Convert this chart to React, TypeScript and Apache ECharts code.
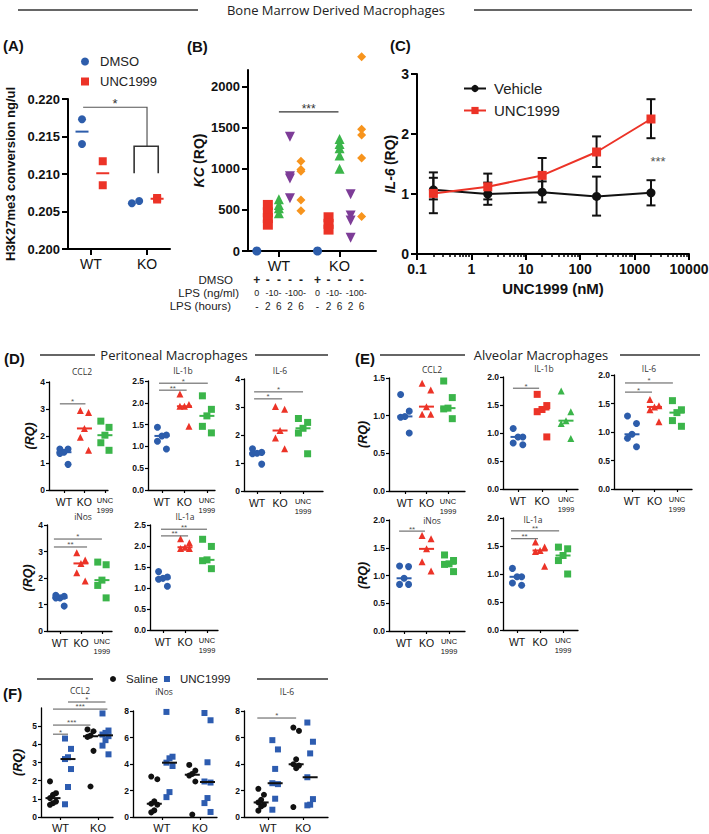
import React, { useEffect, useRef } from 'react';
import * as echarts from 'echarts';

const FONT = '"Liberation Sans", Arial, Helvetica, sans-serif';
const HFONT = '"Open Sans", "Noto Sans", sans-serif';
const BLUE = '#2d5dab';
const RED = '#ec3327';
const GREEN = '#3bb54a';
const PURPLE = '#7d3c97';
const ORANGE = '#f7941d';
const FBLUE = '#2d5cb0';
const BLACK = '#111111';
const SIGC = '#555555';

// ---------- (A) H3K27me3 ----------
const A_GROUPS = ['WT', 'KO'];
const A_DMSO_WT = [0.2173, 0.214];
const A_UNC_WT = [0.2117, 0.2085];
const A_DMSO_KO = [0.2061, 0.2064];
const A_UNC_KO = [0.2066, 0.2068];
// top bar x1, x2, y ; bracket x1, x2, y, leg end
const A_SIG = [0.86, 2.0, 0.2189, 1.77, 2.2, 0.2137, 0.2101];

// ---------- (B) KC ----------
const B_GROUPS = ['WT', 'KO'];
const B_DMSO_ROW = ['+', '-', '-', '-', '-', '+', '-', '-', '-', '-'];
const B_DOSE_ROW = ['0', '-10-', '-100-', '0', '-10-', '-100-'];
const B_HOURS_ROW = ['-', '2', '6', '2', '6', '-', '2', '6', '2', '6'];
const B_WT_DMSO = [0];
const B_WT_LPS10_2H = [560, 470, 400, 320];
const B_WT_LPS10_6H = [630, 560, 520, 460];
const B_WT_LPS100_2H = [1390, 910, 880, 640];
const B_WT_LPS100_6H = [1090, 990, 970, 620, 490];
const B_KO_DMSO = [0];
const B_KO_LPS10_2H = [410, 330, 260];
const B_KO_LPS10_6H = [1360, 1300, 1250, 1160, 1000];
const B_KO_LPS100_2H = [690, 430, 370, 160];
const B_KO_LPS100_6H = [2360, 1480, 1410, 1130, 420];
const B_Y_TICKS = [0, 500, 1000, 1500, 2000];
const B_SIG = [[3, 8.4, 1690]];

// ---------- (C) IL-6 dose response ----------
const C_DOSE = [0.2, 2, 20, 200, 2000];
const C_VEH = [1.07, 1.0, 1.03, 0.96, 1.02];
const C_VEH_LO = [0.68, 0.82, 0.86, 0.64, 0.81];
const C_VEH_HI = [1.36, 1.19, 1.21, 1.29, 1.23];
const C_UNC = [1.01, 1.12, 1.31, 1.7, 2.25];
const C_UNC_LO = [0.91, 0.91, 1.02, 1.45, 1.93];
const C_UNC_HI = [1.27, 1.34, 1.6, 1.96, 2.58];
const C_XTICKS = [0.1, 1, 10, 100, 1000, 10000];
const C_XTICK_LABELS = ['0.1', '1', '10', '100', '1000', '10000'];

// ---------- (D) Peritoneal macrophages ----------
const DE_GROUPS = ['WT', 'KO', 'UNC\n1999'];
const D_CCL2_WT = [1.52, 1.52, 1.4, 1.35, 0.95];
const D_CCL2_KO = [2.94, 2.87, 2.28, 1.95, 1.47];
const D_CCL2_UNC = [2.55, 2.32, 2.03, 1.75, 1.47];
const D_IL1B_WT = [1.44, 1.26, 1.24, 1.12, 0.94];
const D_IL1B_KO = [2.2, 1.96, 1.92, 1.92, 1.46];
const D_IL1B_UNC = [2.16, 1.85, 1.7, 1.46, 1.31];
const D_IL6_WT = [1.51, 1.38, 1.35, 1.33, 0.96];
const D_IL6_KO = [3.02, 2.92, 2.16, 1.89, 1.51];
const D_IL6_UNC = [2.59, 2.45, 2.24, 2.07, 1.33];
const D_INOS_WT = [1.35, 1.31, 1.25, 1.25, 0.94];
const D_INOS_KO = [2.95, 2.68, 2.55, 2.2, 1.89];
const D_INOS_UNC = [2.6, 2.5, 1.92, 1.72, 1.25];
const D_IL1A_WT = [1.39, 1.26, 1.23, 1.21, 1.04];
const D_IL1A_KO = [2.17, 2.08, 1.97, 1.94, 1.94];
const D_IL1A_UNC = [2.16, 1.99, 1.67, 1.65, 1.46];
const D_CCL2_SIG = [[0.8, 2.05, 3.19]];
const D_CCL2_STARS = ['*'];
const D_IL1B_SIG = [[0.87, 3.04, 2.45], [0.87, 2.1, 2.29]];
const D_IL1B_STARS = ['*', '**'];
const D_IL6_SIG = [[0.87, 3.0, 3.54], [0.87, 2.09, 3.29]];
const D_IL6_STARS = ['*', '*'];
const D_INOS_SIG = [[0.71, 3.0, 3.47], [0.71, 2.29, 3.17]];
const D_INOS_STARS = ['*', '**'];
const D_IL1A_SIG = [[0.91, 3.0, 2.4], [0.91, 2.14, 2.24]];
const D_IL1A_STARS = ['**', '**'];

// ---------- (E) Alveolar macrophages ----------
const E_CCL2_WT = [1.28, 1.06, 0.99, 0.98, 0.77];
const E_CCL2_KO = [1.43, 1.34, 1.12, 1.02, 1.02];
const E_CCL2_UNC = [1.46, 1.24, 1.1, 1.09, 0.96];
const E_IL1B_WT = [1.08, 0.93, 0.93, 0.82, 0.79];
const E_IL1B_KO = [1.69, 1.49, 1.42, 1.38, 0.93];
const E_IL1B_UNC = [1.75, 1.38, 1.22, 1.17, 0.9];
const E_IL6_WT = [1.28, 1.15, 0.96, 0.89, 0.74];
const E_IL6_KO = [1.57, 1.46, 1.44, 1.39, 1.18];
const E_IL6_UNC = [1.55, 1.39, 1.34, 1.2, 1.1];
const E_INOS_WT = [1.17, 1.16, 0.95, 0.84, 0.84];
const E_INOS_KO = [1.72, 1.66, 1.48, 1.25, 1.08];
const E_INOS_UNC = [1.37, 1.27, 1.21, 1.2, 1.07];
const E_IL1A_WT = [1.1, 0.95, 0.95, 0.84, 0.8];
const E_IL1A_KO = [1.57, 1.48, 1.42, 1.4, 1.14];
const E_IL1A_UNC = [1.48, 1.45, 1.33, 1.24, 1.0];
const E_IL1B_SIG = [[0.79, 1.88, 1.8]];
const E_IL1B_STARS = ['*'];
const E_IL6_SIG = [[0.69, 2.82, 1.86], [0.69, 1.89, 1.7]];
const E_IL6_STARS = ['*', '*'];
const E_INOS_SIG = [[0.78, 1.93, 1.8]];
const E_INOS_STARS = ['**'];
const E_IL1A_SIG = [[0.74, 2.83, 1.77], [0.74, 1.91, 1.63]];
const E_IL1A_STARS = ['**', '**'];

// ---------- (F) in vivo ----------
const F_GROUPS = ['WT', 'KO'];
const F_CCL2_WT_SAL = [1.96, 1.31, 1.22, 1.04, 0.85, 0.76, 0.67];
const F_CCL2_WT_UNC = [4.32, 3.75, 3.29, 3.19, 2.64, 1.65, 0.7];
const F_CCL2_KO_SAL = [4.82, 4.72, 4.48, 4.41, 3.64, 1.68];
const F_CCL2_KO_UNC = [5.7, 4.76, 4.63, 4.54, 4.45, 4.23, 3.93, 3.45];
const F_INOS_WT_SAL = [3.05, 2.85, 1.18, 1.0, 0.93, 0.5, 0.35];
const F_INOS_WT_UNC = [7.93, 4.55, 4.43, 4.1, 3.85, 1.88, 1.5];
const F_INOS_KO_SAL = [3.93, 3.5, 3.25, 3.13, 2.68, 0.18];
const F_INOS_KO_UNC = [7.85, 7.3, 4.13, 2.68, 2.6, 1.43, 1.05, 0.38];
const F_IL6_WT_SAL = [2.13, 1.68, 1.3, 1.1, 0.93, 0.8, 0.48];
const F_IL6_WT_UNC = [5.8, 5.1, 3.63, 2.55, 2.48, 1.38, 0.55];
const F_IL6_KO_SAL = [6.75, 6.5, 4.35, 3.98, 3.88, 3.68, 0.75];
const F_IL6_KO_UNC = [7.13, 5.68, 4.8, 3.0, 1.35, 0.93, 0.88];
const F_CCL2_YTICKS = [0, 1, 2, 3, 4, 5];
const F_CCL2_SIG = [[1.2, 2.2, 6.33], [0.8, 2.25, 5.94], [0.8, 1.8, 5.06], [0.8, 1.2, 4.56]];
const F_CCL2_STARS = ['*', '***', '***', '*'];
const F_IL6_SIG = [[0.69, 1.8, 7.47]];
const F_IL6_STARS = ['*'];

// ---------- layout (pixels / axis ranges) ----------
const J5 = [-0.2, 0.2, 0, -0.2, 0.2];
const J8 = [-0.08, 0.08, 0, -0.08, 0.08, 0, -0.08, 0.08];
const FOFF = 0.2;
const B_COLS = [1, 2, 3, 4, 5, 6.5, 7.5, 8.5, 9.5, 10.5];
const B_DOSE_POS = [1, 2.5, 4.5, 6.5, 8, 10];
const B_GROUP_POS = [3, 8.5];

function median(a: number[]) {
  const s = [...a].sort((x, y) => x - y);
  const n = s.length;
  return n % 2 ? s[(n - 1) / 2] : (s[n / 2 - 1] + s[n / 2]) / 2;
}
function mean(a: number[]) {
  return a.reduce((s, v) => s + v, 0) / a.length;
}

const LINE = (w: number) => ({ show: true, onZero: false, lineStyle: { color: '#000', width: w } });

function buildOption() {
  const grid: any[] = [];
  const xAxis: any[] = [];
  const yAxis: any[] = [];
  const series: any[] = [];
  const graphic: any[] = [];

  const addGrid = (r: number[], xa: any, ya: any) => {
    grid.push({ left: r[0], top: r[1], width: r[2], height: r[3], containLabel: false, outerBoundsMode: 'none' });
    const g = grid.length - 1;
    xAxis.push({ gridIndex: g, type: 'value', position: 'bottom', splitLine: { show: false }, ...xa });
    yAxis.push({ gridIndex: g, type: 'value', position: 'left', splitLine: { show: false }, ...ya });
    return { g, xi: xAxis.length - 1, yi: yAxis.length - 1 };
  };

  const text = (t: string, x: number, y: number, font: string, align = 'center', fill = '#222') =>
    graphic.push({
      type: 'text', x, y, silent: true,
      style: { text: t, font, fill, align, verticalAlign: 'middle', textAlign: align, textVerticalAlign: 'middle' },
    });
  const hline = (x1: number, x2: number, y: number, w = 1.3, stroke = '#333') =>
    graphic.push({ type: 'line', silent: true, shape: { x1, y1: y, x2, y2: y }, style: { stroke, lineWidth: w } });

  const scatter = (ax: any, name: string, data: number[][], symbol: string, size: any, color: string, extra: any = {}) =>
    series.push({
      type: 'scatter', name, xAxisIndex: ax.xi, yAxisIndex: ax.yi, data, symbol, symbolSize: size,
      itemStyle: { color, opacity: 1 }, clip: false, silent: true, ...extra,
    });

  const sig = (ax: any, rows: number[][], stars: string[], fs = 8, color = SIGC, lw = 1) =>
    series.push({
      type: 'custom', xAxisIndex: ax.xi, yAxisIndex: ax.yi, clip: false, silent: true, z: 6, data: rows,
      renderItem: (p: any, api: any) => {
        const a = api.coord([api.value(0), api.value(2)]);
        const b = api.coord([api.value(1), api.value(2)]);
        return {
          type: 'group',
          children: [
            { type: 'line', shape: { x1: a[0], y1: a[1], x2: b[0], y2: b[1] }, style: { stroke: color, lineWidth: lw } },
            {
              type: 'text', x: (a[0] + b[0]) / 2, y: a[1] - fs * 0.2 - 0.5,
              style: { text: stars[p.dataIndex], font: `${fs}px ${FONT}`, fill: color, align: 'center', verticalAlign: 'middle', textAlign: 'center', textVerticalAlign: 'middle' },
            },
          ],
        };
      },
    });

  // ===== header =====
  hline(18, 198, 10);
  hline(474, 692, 10);
  text('Bone Marrow Derived Macrophages', 336, 10, `13px ${HFONT}`);
  const letter = (t: string, x: number, y: number) => text(t, x, y, `bold 15px ${FONT}`, 'left', '#111');
  letter('(A)', 3, 45);
  letter('(B)', 187, 46);
  letter('(C)', 390, 45);
  letter('(D)', 4, 358);
  letter('(E)', 355, 358);
  letter('(F)', 3, 693);

  // ===== (A) =====
  const a = addGrid(
    [68, 99, 102, 150],
    {
      min: 0.59, max: 2.41, axisLine: LINE(2),
      axisTick: { customValues: [1, 2], length: 6, lineStyle: { color: '#000', width: 2 } },
      axisLabel: { customValues: [1, 2], formatter: (v: number) => A_GROUPS[Math.round(v) - 1], fontSize: 14, fontFamily: FONT, color: '#111', margin: 8 },
    },
    {
      min: 0.2, max: 0.22, interval: 0.005, axisLine: LINE(2),
      axisTick: { length: 6, lineStyle: { color: '#000', width: 2 } },
      axisLabel: { formatter: (v: number) => v.toFixed(3), fontSize: 13, fontWeight: 'bold', fontFamily: FONT, color: '#111', margin: 8 },
      name: 'H3K27me3 conversion ng/ul', nameLocation: 'middle', nameRotate: 90, nameGap: 51,
      nameTextStyle: { fontSize: 13, fontWeight: 'bold', fontFamily: FONT, color: '#111' },
    }
  );
  scatter(a, 'DMSO', [...A_DMSO_WT.map((v) => [1 - 0.16, v]), ...A_DMSO_KO.map((v, i) => [2 - 0.27 + i * 0.13, v])], 'circle', 8, BLUE);
  scatter(a, 'UNC1999', [...A_UNC_WT.map((v) => [1 + 0.21, v]), ...A_UNC_KO.map((v) => [2 + 0.18, v])], 'rect', 8, RED);
  scatter(a, 'A-mean-dmso', [[1 - 0.16, mean(A_DMSO_WT)]], 'rect', [13, 2], BLUE);
  scatter(a, 'A-mean-unc', [[1 + 0.21, mean(A_UNC_WT)], [2 + 0.18, mean(A_UNC_KO)]], 'rect', [13, 2], RED);
  series.push({
    type: 'custom', xAxisIndex: a.xi, yAxisIndex: a.yi, clip: false, silent: true, z: 6, data: [A_SIG],
    renderItem: (p: any, api: any) => {
      const v = (i: number) => api.value(i);
      const P = (x: number, y: number) => api.coord([x, y]);
      const t1 = P(v(0), v(2)), t2 = P(v(1), v(2)), t3 = P(v(1), v(5));
      const b1 = P(v(3), v(6)), b2 = P(v(3), v(5)), b3 = P(v(4), v(5)), b4 = P(v(4), v(6));
      return {
        type: 'group',
        children: [
          { type: 'polyline', shape: { points: [t1, t2, t3] }, style: { stroke: '#555', lineWidth: 1.2, fill: null } },
          { type: 'polyline', shape: { points: [b1, b2, b3, b4] }, style: { stroke: '#333', lineWidth: 1.6, fill: null } },
          {
            type: 'text', x: (t1[0] + t2[0]) / 2, y: t1[1] - 4,
            style: { text: '*', font: `13px ${FONT}`, fill: '#333', align: 'center', verticalAlign: 'middle', textAlign: 'center', textVerticalAlign: 'middle' },
          },
        ],
      };
    },
  });

  // ===== (B) =====
  const b = addGrid(
    [248, 70, 128, 181],
    {
      min: 0.2, max: 11.8, axisLine: LINE(2),
      axisTick: { customValues: B_GROUP_POS, length: 6, lineStyle: { color: '#000', width: 2 } },
      axisLabel: { customValues: B_GROUP_POS, formatter: (v: number) => B_GROUPS[B_GROUP_POS.indexOf(v)], fontSize: 14.5, fontFamily: FONT, color: '#111', margin: 7 },
    },
    {
      min: 0, max: 2200, axisLine: LINE(2),
      axisTick: { customValues: B_Y_TICKS, length: 6, lineStyle: { color: '#000', width: 2 } },
      axisLabel: { customValues: B_Y_TICKS, formatter: (v: number) => String(v), fontSize: 13, fontWeight: 'bold', fontFamily: FONT, color: '#111', margin: 8 },
      name: '{i|KC} {n|(RQ)}', nameLocation: 'middle', nameRotate: 90, nameGap: 42,
      nameTextStyle: {
        fontFamily: FONT,
        rich: {
          i: { fontSize: 14, fontStyle: 'italic', fontWeight: 'bold', fontFamily: FONT, color: '#111' },
          n: { fontSize: 14, fontWeight: 'bold', fontFamily: FONT, color: '#111' },
        },
      },
    }
  );
  const bRow = (offset: number, pos: number[], labels: string[], fs: number, bold: boolean) =>
    xAxis.push({
      gridIndex: b.g, type: 'value', min: 0.2, max: 11.8, position: 'bottom', offset,
      axisLine: { show: false }, axisTick: { show: false }, splitLine: { show: false },
      axisLabel: {
        customValues: pos, margin: 0, formatter: (v: number) => labels[pos.indexOf(v)],
        fontSize: fs, fontWeight: bold ? 'bold' : 'normal', fontFamily: FONT, color: '#222',
      },
    });
  bRow(23, B_COLS, B_DMSO_ROW, 12, true);
  bRow(37, B_DOSE_POS, B_DOSE_ROW, 9, false);
  bRow(50, B_COLS, B_HOURS_ROW, 10, false);
  text('DMSO', 233, 280, `11.5px ${FONT}`, 'right');
  text('LPS (ng/ml)', 239, 293, `11.5px ${FONT}`, 'right');
  text('LPS (hours)', 231, 306, `11.5px ${FONT}`, 'right');
  const bSeries: [number[], number, string, number, string, any][] = [
    [B_WT_DMSO, 1, 'circle', 9, BLUE, {}],
    [B_WT_LPS10_2H, 2, 'rect', 10, RED, {}],
    [B_WT_LPS10_6H, 3, 'triangle', 10, GREEN, {}],
    [B_WT_LPS100_2H, 4, 'triangle', 10, PURPLE, { symbolRotate: 180 }],
    [B_WT_LPS100_6H, 5, 'diamond', 9, ORANGE, {}],
    [B_KO_DMSO, 6.5, 'circle', 9, BLUE, {}],
    [B_KO_LPS10_2H, 7.5, 'rect', 10, RED, {}],
    [B_KO_LPS10_6H, 8.5, 'triangle', 10, GREEN, {}],
    [B_KO_LPS100_2H, 9.5, 'triangle', 10, PURPLE, { symbolRotate: 180 }],
    [B_KO_LPS100_6H, 10.5, 'diamond', 9, ORANGE, {}],
  ];
  bSeries.forEach(([vals, x, sym, size, col, ex], i) =>
    scatter(b, 'B-' + i, vals.map((v) => [x, v]), sym, size, col, ex)
  );
  sig(b, B_SIG, ['***'], 12, '#333', 1.2);

  // ===== (C) =====
  const c = addGrid(
    [417, 74, 272, 180],
    {
      type: 'log', logBase: 10, min: 0.1, max: 10000, axisLine: LINE(2),
      axisTick: { customValues: C_XTICKS, length: 6, lineStyle: { color: '#000', width: 2 } },
      axisLabel: { customValues: C_XTICKS, formatter: (v: number) => C_XTICK_LABELS[C_XTICKS.indexOf(v)] ?? String(v), fontSize: 14, fontWeight: 'bold', fontFamily: FONT, color: '#111', margin: 8 },
      name: 'UNC1999 (nM)', nameLocation: 'middle', nameGap: 27,
      nameTextStyle: { fontSize: 15, fontWeight: 'bold', fontFamily: FONT, color: '#111' },
    },
    {
      min: 0, max: 3, interval: 1, axisLine: LINE(2),
      axisTick: { length: 6, lineStyle: { color: '#000', width: 2 } },
      axisLabel: { fontSize: 14, fontWeight: 'bold', fontFamily: FONT, color: '#111', margin: 8 },
      name: '{i|IL-6} {n|(RQ)}', nameLocation: 'middle', nameRotate: 90, nameGap: 17,
      nameTextStyle: {
        fontFamily: FONT,
        rich: {
          i: { fontSize: 14, fontStyle: 'italic', fontWeight: 'bold', fontFamily: FONT, color: '#111' },
          n: { fontSize: 14, fontWeight: 'bold', fontFamily: FONT, color: '#111' },
        },
      },
    }
  );
  const cMinor: number[] = [];
  [0.1, 1, 10, 100, 1000].forEach((d) => {
    for (let m = 2; m <= 9; m++) cMinor.push(+(m * d).toPrecision(6));
  });
  xAxis.push({
    gridIndex: c.g, type: 'log', logBase: 10, min: 0.1, max: 10000, position: 'bottom',
    axisLine: { show: false }, axisLabel: { show: false }, splitLine: { show: false },
    axisTick: { customValues: cMinor, length: 3, lineStyle: { color: '#000', width: 1.5 } },
  });
  const errSeries = (lo: number[], hi: number[], color: string) =>
    series.push({
      type: 'custom', xAxisIndex: c.xi, yAxisIndex: c.yi, clip: false, silent: true, z: 2,
      data: C_DOSE.map((d, i) => [d, lo[i], hi[i]]),
      renderItem: (p: any, api: any) => {
        const t = api.coord([api.value(0), api.value(2)]);
        const u = api.coord([api.value(0), api.value(1)]);
        const st = { stroke: color, lineWidth: 2 };
        return {
          type: 'group',
          children: [
            { type: 'line', shape: { x1: t[0], y1: t[1], x2: u[0], y2: u[1] }, style: st },
            { type: 'line', shape: { x1: t[0] - 4.5, y1: t[1], x2: t[0] + 4.5, y2: t[1] }, style: st },
            { type: 'line', shape: { x1: u[0] - 4.5, y1: u[1], x2: u[0] + 4.5, y2: u[1] }, style: st },
          ],
        };
      },
    });
  errSeries(C_VEH_LO, C_VEH_HI, BLACK);
  errSeries(C_UNC_LO, C_UNC_HI, BLACK);
  series.push({
    type: 'line', name: 'Vehicle', xAxisIndex: c.xi, yAxisIndex: c.yi, silent: true, z: 4,
    data: C_DOSE.map((d, i) => [d, C_VEH[i]]), symbol: 'circle', symbolSize: 9,
    lineStyle: { color: BLACK, width: 2 }, itemStyle: { color: BLACK },
  });
  series.push({
    type: 'line', name: 'UNC1999 (C)', xAxisIndex: c.xi, yAxisIndex: c.yi, silent: true, z: 5,
    data: C_DOSE.map((d, i) => [d, C_UNC[i]]), symbol: 'rect', symbolSize: 9,
    lineStyle: { color: RED, width: 2 }, itemStyle: { color: RED },
  });
  text('***', 658, 161, `13px ${FONT}`, 'center', '#555');

  // ===== dot plots D / E =====
  const deLabel = (v: number) => {
    const lab = DE_GROUPS[Math.round(v) - 1] ?? '';
    return lab.includes('\n') ? lab.split('\n').map((s) => `{u|${s}}`).join('\n') : `{n|${lab}}`;
  };
  const dotPanel = (
    r: number[], xr: number[], title: string, tpos: number[], groups: number[][], shapes: string[],
    yMax: number, yStep: number, dec: number, sigRows: number[][], stars: string[], rq: boolean
  ) => {
    const ax = addGrid(
      r,
      {
        min: xr[0], max: xr[1], axisLine: LINE(1.3),
        axisTick: { customValues: [1, 2, 3], length: 3, lineStyle: { color: '#000', width: 1.2 } },
        axisLabel: {
          customValues: [1, 2, 3], margin: 5, formatter: deLabel, color: '#111',
          rich: {
            n: { fontSize: 10.5, fontFamily: FONT, color: '#111', lineHeight: 13 },
            u: { fontSize: 7.5, fontFamily: FONT, color: '#111', lineHeight: 10 },
          },
        },
      },
      {
        min: 0, max: yMax, interval: yStep, axisLine: LINE(1.3),
        axisTick: { length: 3, lineStyle: { color: '#000', width: 1.2 } },
        axisLabel: { formatter: (v: number) => v.toFixed(dec), fontSize: 8.5, fontWeight: 'bold', fontFamily: FONT, color: '#111', margin: 4 },
        name: rq ? '(RQ)' : '', nameLocation: 'middle', nameRotate: 90, nameGap: 10,
        nameTextStyle: { fontSize: 12.5, fontStyle: 'italic', fontWeight: 'bold', fontFamily: FONT, color: '#111' },
      }
    );
    const cols = [BLUE, RED, GREEN];
    groups.forEach((vals, gi) => {
      scatter(ax, `${title}-${gi}`, vals.map((v, i) => [gi + 1 + J5[i % J5.length], v]), shapes[gi], 7, cols[gi]);
    });
    groups.forEach((vals, gi) => {
      scatter(ax, `${title}-m${gi}`, [[gi + 1, median(vals)]], 'rect', [15, 2], cols[gi], { z: 4 });
    });
    if (sigRows.length) sig(ax, sigRows, stars, 8);
    text(title, tpos[0], tpos[1], `8.5px ${HFONT}`, 'center', '#333');
  };
  const S3 = ['circle', 'triangle', 'rect'];

  // D header
  hline(40, 95, 355);
  hline(255, 328, 355);
  text('Peritoneal Macrophages', 174, 355, `13px ${HFONT}`);
  dotPanel([49, 382, 59, 108], [0.27, 3.15], 'CCL2', [82, 371], [D_CCL2_WT, D_CCL2_KO, D_CCL2_UNC], S3, 4, 1, 0, D_CCL2_SIG, D_CCL2_STARS, true);
  dotPanel([148, 381, 67, 109], [0.38, 3.36], 'IL-1b', [183, 370], [D_IL1B_WT, D_IL1B_KO, D_IL1B_UNC], S3, 2.5, 0.5, 1, D_IL1B_SIG, D_IL1B_STARS, false);
  dotPanel([244, 379, 79, 112], [0.43, 3.87], 'IL-6', [280, 370], [D_IL6_WT, D_IL6_KO, D_IL6_UNC], S3, 4, 1, 0, D_IL6_SIG, D_IL6_STARS, false);
  dotPanel([47, 525, 65, 106], [0.38, 3.48], 'iNos', [83, 516], [D_INOS_WT, D_INOS_KO, D_INOS_UNC], S3, 4, 1, 0, D_INOS_SIG, D_INOS_STARS, true);
  dotPanel([150, 525, 68, 105], [0.41, 3.5], 'IL-1a', [185, 516], [D_IL1A_WT, D_IL1A_KO, D_IL1A_UNC], S3, 2.5, 0.5, 1, D_IL1A_SIG, D_IL1A_STARS, false);

  // E header
  hline(380, 465, 355);
  hline(620, 700, 355);
  text('Alveolar Macrophages', 541, 355, `13px ${HFONT}`);
  dotPanel([389, 378, 76, 113], [0.26, 3.79], 'CCL2', [432, 369], [E_CCL2_WT, E_CCL2_KO, E_CCL2_UNC], S3, 1.5, 0.5, 1, [], [], true);
  dotPanel([503, 377, 75, 112], [0.375, 3.5], 'IL-1b', [544, 368], [E_IL1B_WT, E_IL1B_KO, E_IL1B_UNC], ['circle', 'rect', 'triangle'], 2, 0.5, 1, E_IL1B_SIG, E_IL1B_STARS, false);
  dotPanel([614, 375, 78, 114], [0.2, 3.67], 'IL-6', [649, 368], [E_IL6_WT, E_IL6_KO, E_IL6_UNC], S3, 2, 0.5, 1, E_IL6_SIG, E_IL6_STARS, false);
  dotPanel([389, 520, 76, 111], [0.33, 3.71], 'iNos', [432, 520], [E_INOS_WT, E_INOS_KO, E_INOS_UNC], S3, 2, 0.5, 1, E_INOS_SIG, E_INOS_STARS, true);
  dotPanel([503, 518, 75, 112], [0.39, 3.65], 'IL-1a', [533, 519], [E_IL1A_WT, E_IL1A_KO, E_IL1A_UNC], S3, 2, 0.5, 1, E_IL1A_SIG, E_IL1A_STARS, false);

  // ===== (F) =====
  hline(37, 93, 679);
  hline(257, 328, 679);
  const fPanel = (
    r: number[], xr: number[], title: string, tpos: number[], groups: number[][],
    yMax: number, yStep: number, yTicks: number[] | null, sigRows: number[][], stars: string[], rq: boolean
  ) => {
    const ax = addGrid(
      r,
      {
        min: xr[0], max: xr[1], axisLine: LINE(1.3),
        axisTick: { customValues: [1, 2], length: 3, lineStyle: { color: '#000', width: 1.2 } },
        axisLabel: { customValues: [1, 2], margin: 5, formatter: (v: number) => F_GROUPS[Math.round(v) - 1], fontSize: 11, fontFamily: FONT, color: '#111' },
      },
      {
        min: 0, max: yMax, interval: yStep, axisLine: LINE(1.3),
        axisTick: yTicks ? { customValues: yTicks, length: 3, lineStyle: { color: '#000', width: 1.2 } } : { length: 3, lineStyle: { color: '#000', width: 1.2 } },
        axisLabel: yTicks
          ? { customValues: yTicks, formatter: (v: number) => String(v), fontSize: 8.5, fontWeight: 'bold', fontFamily: FONT, color: '#111', margin: 4 }
          : { formatter: (v: number) => String(v), fontSize: 8.5, fontWeight: 'bold', fontFamily: FONT, color: '#111', margin: 4 },
        name: rq ? '(RQ)' : '', nameLocation: 'middle', nameRotate: 90, nameGap: 17,
        nameTextStyle: { fontSize: 12.5, fontStyle: 'italic', fontWeight: 'bold', fontFamily: FONT, color: '#111' },
      }
    );
    const xs = [1 - FOFF, 1 + FOFF, 2 - FOFF, 2 + FOFF];
    groups.forEach((vals, gi) => {
      const isSal = gi % 2 === 0;
      scatter(ax, isSal ? 'Saline' : 'UNC1999 (F)', vals.map((v, i) => [xs[gi] + J8[i % J8.length], v]), isSal ? 'circle' : 'rect', 6, isSal ? BLACK : FBLUE);
    });
    groups.forEach((vals, gi) => {
      scatter(ax, `${title}-fm${gi}`, [[xs[gi], median(vals)]], 'rect', [15, 2], BLACK, { z: 4 });
    });
    if (sigRows.length) sig(ax, sigRows, stars, 8);
    text(title, tpos[0], tpos[1], `8.5px ${HFONT}`, 'center', '#333');
  };
  fPanel([41, 708, 72, 109], [0.48, 2.4], 'CCL2', [80, 690], [F_CCL2_WT_SAL, F_CCL2_WT_UNC, F_CCL2_KO_SAL, F_CCL2_KO_UNC], 6, 1, F_CCL2_YTICKS, F_CCL2_SIG, F_CCL2_STARS, true);
  fPanel([133, 711, 84, 106], [0.24, 2.45], 'iNos', [164, 691], [F_INOS_WT_SAL, F_INOS_WT_UNC, F_INOS_KO_SAL, F_INOS_KO_UNC], 8, 2, null, [], [], false);
  fPanel([244, 711, 84, 106], [0.31, 2.71], 'IL-6', [287, 691], [F_IL6_WT_SAL, F_IL6_WT_UNC, F_IL6_KO_SAL, F_IL6_KO_UNC], 8, 2, null, F_IL6_SIG, F_IL6_STARS, false);

  const legFmt = (name: string) => name.replace(/ \([CF]\)$/, '');
  const legend = [
    {
      orient: 'vertical', left: 81, top: 55, padding: 0, itemWidth: 8, itemHeight: 8, itemGap: 7, selectedMode: false,
      data: [{ name: 'DMSO', icon: 'circle' }, { name: 'UNC1999', icon: 'rect' }], formatter: legFmt,
      textStyle: { fontSize: 13, fontFamily: FONT, color: '#222', padding: [0, 0, 0, 6] },
    },
    {
      orient: 'vertical', left: 463, top: 81, padding: 0, itemWidth: 22, itemHeight: 9, itemGap: 7, selectedMode: false,
      data: ['Vehicle', 'UNC1999 (C)'], formatter: legFmt,
      textStyle: { fontSize: 15, fontFamily: FONT, color: '#222', padding: [0, 0, 0, 3] },
    },
    {
      orient: 'horizontal', left: 110, top: 673, padding: 0, itemWidth: 6, itemHeight: 6, itemGap: 6, selectedMode: false,
      data: [{ name: 'Saline', icon: 'circle' }, { name: 'UNC1999 (F)', icon: 'rect' }], formatter: legFmt,
      textStyle: { fontSize: 11.5, fontFamily: FONT, color: '#222', padding: [0, 0, 0, 5] },
    },
  ];

  return {
    animation: false,
    backgroundColor: '#ffffff',
    textStyle: { fontFamily: FONT },
    grid, xAxis, yAxis, series, graphic, legend,
  };
}

export default function App() {
  const ref = useRef<HTMLDivElement>(null);
  useEffect(() => {
    if (!ref.current) return;
    const chart = echarts.init(ref.current, null, { renderer: 'svg' });
    chart.setOption(buildOption() as any);
    return () => chart.dispose();
  }, []);
  return (
    <div
      ref={ref}
      style={{ position: 'absolute', left: 0, top: 0, width: 709, height: 834, background: '#ffffff' }}
    />
  );
}
